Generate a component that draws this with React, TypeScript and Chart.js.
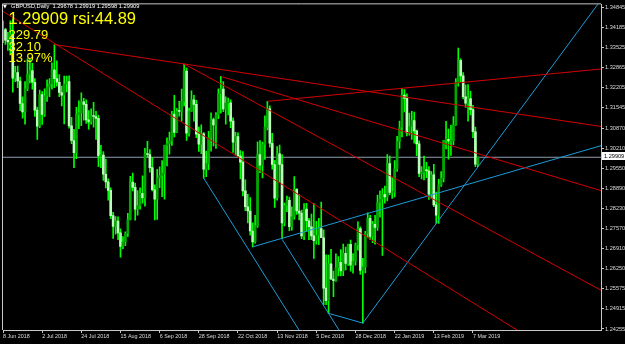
import { useEffect, useRef } from 'react';
import { Chart, registerables } from 'chart.js';

Chart.register(...registerables);

// Daily GBPUSD bars, index 0 = 8 Jun 2018
const opens = [
  1.3410, 1.3411, 1.3376, 1.3371, 1.3395, 1.3251, 1.3270, 1.3242, 1.3168, 1.3140,
  1.3216, 1.3264, 1.3276, 1.3238, 1.3146, 1.3093, 1.3197, 1.3132, 1.3193, 1.3222,
  1.3232, 1.3279, 1.3250, 1.3238, 1.3204, 1.3195, 1.3233, 1.3240, 1.3094, 1.3046,
  1.3006, 1.3132, 1.3138, 1.3173, 1.3165, 1.3114, 1.3107, 1.3126, 1.3125, 1.3119,
  1.2995, 1.2998, 1.2935, 1.2910, 1.2882, 1.2799, 1.2763, 1.2781, 1.2742, 1.2697,
  1.2712, 1.2740, 1.2786, 1.2909, 1.2892, 1.2820, 1.2832, 1.2872, 1.2857, 1.3002,
  1.3000, 1.2957, 1.2884, 1.2853, 1.2924, 1.2931, 1.2938, 1.3030, 1.3036, 1.3044,
  1.3133, 1.3073, 1.3143, 1.3142, 1.3175, 1.3275, 1.3070, 1.3143, 1.3180, 1.3165,
  1.3067, 1.3034, 1.3068, 1.2952, 1.2971, 1.3056, 1.3115, 1.3097, 1.3130, 1.3200,
  1.3215, 1.3150, 1.3169, 1.3170, 1.3110, 1.3041, 1.3059, 1.2996, 1.2975, 1.2880,
  1.2828, 1.2814, 1.2748, 1.2712, 1.2765, 1.3000, 1.2965, 1.3033, 1.3090, 1.3150,
  1.3037, 1.2967, 1.2856, 1.3002, 1.2967, 1.2775, 1.2832, 1.2849, 1.2762, 1.2795,
  1.2885, 1.2814, 1.2807, 1.2732, 1.2820, 1.2782, 1.2762, 1.2732, 1.2716, 1.2734,
  1.2756, 1.2726, 1.2560, 1.2519, 1.2640, 1.2590, 1.2585, 1.2627, 1.2645, 1.2617,
  1.2675, 1.2641, 1.2704, 1.2636, 1.2648, 1.2703, 1.2756, 1.2618, 1.2630, 1.2740,
  1.2790, 1.2730, 1.2770, 1.2760, 1.2842, 1.2853, 1.2869, 1.2860, 1.2970, 1.2875,
  1.2875, 1.2953, 1.3043, 1.3089, 1.3196, 1.3185, 1.3071, 1.3093, 1.3112, 1.3078,
  1.3035, 1.2938, 1.2941, 1.2950, 1.2946, 1.2869, 1.2933, 1.2834, 1.2800, 1.2900,
  1.2922, 1.3047, 1.3050, 1.3044, 1.3045, 1.3097, 1.3238, 1.3310, 1.3259, 1.3190,
  1.3169, 1.3184, 1.3148, 1.3075, 1.29678,
];
const highs = [
  1.3440, 1.3415, 1.3402, 1.3440, 1.3446, 1.3290, 1.3291, 1.3255, 1.3190, 1.3240,
  1.3315, 1.3315, 1.3300, 1.3250, 1.3156, 1.3212, 1.3207, 1.3216, 1.3246, 1.3250,
  1.3302, 1.3362, 1.3308, 1.3263, 1.3225, 1.3258, 1.3258, 1.3259, 1.3122, 1.3083,
  1.3155, 1.3177, 1.3203, 1.3185, 1.3180, 1.3145, 1.3150, 1.3172, 1.3142, 1.3130,
  1.3030, 1.3010, 1.2985, 1.2920, 1.2890, 1.2810, 1.2796, 1.2795, 1.2755, 1.2730,
  1.2745, 1.2806, 1.2928, 1.2939, 1.2906, 1.2881, 1.2890, 1.2930, 1.3020, 1.3043,
  1.3016, 1.2990, 1.2900, 1.2951, 1.2959, 1.2980, 1.3031, 1.3055, 1.3074, 1.3142,
  1.3195, 1.3151, 1.3175, 1.3215, 1.3298, 1.3285, 1.3153, 1.3210, 1.3195, 1.3178,
  1.3090, 1.3098, 1.3072, 1.3011, 1.3076, 1.3137, 1.3120, 1.3138, 1.3216, 1.3257,
  1.3240, 1.3190, 1.3186, 1.3180, 1.3121, 1.3073, 1.3071, 1.3013, 1.3010, 1.2917,
  1.2869, 1.2858, 1.2775, 1.2800, 1.3042, 1.3046, 1.3041, 1.3127, 1.3175, 1.3160,
  1.3070, 1.2981, 1.3026, 1.3031, 1.3000, 1.2840, 1.2863, 1.2860, 1.2828, 1.2927,
  1.2888, 1.2868, 1.2817, 1.2838, 1.2839, 1.2790, 1.2804, 1.2838, 1.2780, 1.2790,
  1.2843, 1.2752, 1.2670, 1.2669, 1.2688, 1.2616, 1.2673, 1.2664, 1.2687, 1.2705,
  1.2695, 1.2705, 1.2718, 1.2674, 1.2708, 1.2778, 1.2762, 1.2658, 1.2747, 1.2808,
  1.2800, 1.2780, 1.2800, 1.2866, 1.2880, 1.2888, 1.2896, 1.3000, 1.2995, 1.2924,
  1.2980, 1.3060, 1.3110, 1.3218, 1.3214, 1.3200, 1.3136, 1.3142, 1.3140, 1.3080,
  1.3045, 1.2960, 1.2995, 1.2974, 1.2960, 1.2944, 1.2968, 1.2876, 1.2918, 1.2944,
  1.3047, 1.3109, 1.3084, 1.3097, 1.3125, 1.3250, 1.3350, 1.3315, 1.3270, 1.3229,
  1.3230, 1.3208, 1.3162, 1.3090, 1.29919,
];
const lows = [
  1.3367, 1.3362, 1.3343, 1.3330, 1.3205, 1.3240, 1.3220, 1.3144, 1.3120, 1.3100,
  1.3210, 1.3236, 1.3215, 1.3125, 1.3050, 1.3088, 1.3099, 1.3125, 1.3175, 1.3190,
  1.3215, 1.3220, 1.3225, 1.3190, 1.3160, 1.3101, 1.3206, 1.3087, 1.3036, 1.2957,
  1.2986, 1.3085, 1.3095, 1.3113, 1.3102, 1.3083, 1.3100, 1.3090, 1.3050, 1.2960,
  1.2957, 1.2915, 1.2890, 1.2850, 1.2789, 1.2724, 1.2738, 1.2720, 1.2662, 1.2690,
  1.2700, 1.2730, 1.2785, 1.2880, 1.2784, 1.2800, 1.2820, 1.2840, 1.2830, 1.2990,
  1.2942, 1.2880, 1.2785, 1.2786, 1.2891, 1.2861, 1.2853, 1.2962, 1.3001, 1.3030,
  1.3058, 1.3072, 1.3126, 1.3110, 1.3160, 1.3046, 1.3060, 1.3142, 1.3110, 1.3055,
  1.3010, 1.3003, 1.2922, 1.2927, 1.2950, 1.3011, 1.3028, 1.3020, 1.3118, 1.3136,
  1.3141, 1.3100, 1.3130, 1.3088, 1.3007, 1.3000, 1.2991, 1.2920, 1.2864, 1.2815,
  1.2775, 1.2734, 1.2696, 1.2708, 1.2760, 1.2940, 1.2923, 1.2984, 1.3081, 1.3024,
  1.2952, 1.2826, 1.2850, 1.2909, 1.2724, 1.2765, 1.2812, 1.2749, 1.2751, 1.2787,
  1.2803, 1.2785, 1.2723, 1.2720, 1.2747, 1.2720, 1.2720, 1.2658, 1.2705, 1.2703,
  1.2728, 1.2506, 1.2506, 1.2477, 1.2588, 1.2532, 1.2582, 1.2600, 1.2600, 1.2601,
  1.2620, 1.2635, 1.2616, 1.2609, 1.2636, 1.2685, 1.2605, 1.2445, 1.2610, 1.2725,
  1.2720, 1.2710, 1.2705, 1.2750, 1.2794, 1.2668, 1.2840, 1.2847, 1.2868, 1.2855,
  1.2860, 1.2944, 1.3020, 1.3058, 1.3140, 1.3061, 1.3064, 1.3050, 1.3037, 1.2996,
  1.2927, 1.2920, 1.2916, 1.2924, 1.2852, 1.2856, 1.2828, 1.2773, 1.2773, 1.2895,
  1.2910, 1.3018, 1.2985, 1.2997, 1.3032, 1.3096, 1.3225, 1.3240, 1.3183, 1.3155,
  1.3110, 1.3130, 1.3055, 1.2960, 1.29598,
];
const closes = [
  1.3411, 1.3376, 1.3371, 1.3395, 1.3251, 1.3270, 1.3242, 1.3168, 1.3140, 1.3216,
  1.3264, 1.3276, 1.3238, 1.3146, 1.3093, 1.3197, 1.3132, 1.3193, 1.3222, 1.3232,
  1.3279, 1.3250, 1.3238, 1.3204, 1.3195, 1.3233, 1.3240, 1.3094, 1.3046, 1.3006,
  1.3132, 1.3138, 1.3173, 1.3165, 1.3114, 1.3107, 1.3126, 1.3125, 1.3119, 1.2995,
  1.2998, 1.2935, 1.2910, 1.2882, 1.2799, 1.2763, 1.2781, 1.2742, 1.2697, 1.2712,
  1.2740, 1.2786, 1.2909, 1.2892, 1.2820, 1.2832, 1.2872, 1.2857, 1.3002, 1.3000,
  1.2957, 1.2884, 1.2853, 1.2924, 1.2931, 1.2938, 1.3030, 1.3036, 1.3044, 1.3133,
  1.3073, 1.3143, 1.3142, 1.3175, 1.3275, 1.3070, 1.3143, 1.3180, 1.3165, 1.3067,
  1.3034, 1.3068, 1.2952, 1.2971, 1.3056, 1.3115, 1.3097, 1.3130, 1.3200, 1.3215,
  1.3150, 1.3169, 1.3170, 1.3110, 1.3041, 1.3059, 1.2996, 1.2975, 1.2880, 1.2828,
  1.2814, 1.2748, 1.2712, 1.2765, 1.3000, 1.2965, 1.3033, 1.3090, 1.3150, 1.3037,
  1.2967, 1.2856, 1.3002, 1.2967, 1.2775, 1.2832, 1.2849, 1.2762, 1.2795, 1.2885,
  1.2814, 1.2807, 1.2732, 1.2820, 1.2782, 1.2762, 1.2732, 1.2716, 1.2734, 1.2756,
  1.2726, 1.2560, 1.2519, 1.2640, 1.2590, 1.2585, 1.2627, 1.2645, 1.2617, 1.2675,
  1.2641, 1.2704, 1.2636, 1.2648, 1.2703, 1.2756, 1.2618, 1.2630, 1.2740, 1.2790,
  1.2730, 1.2770, 1.2760, 1.2842, 1.2853, 1.2869, 1.2860, 1.2970, 1.2875, 1.2875,
  1.2953, 1.3043, 1.3089, 1.3196, 1.3185, 1.3071, 1.3093, 1.3112, 1.3078, 1.3035,
  1.2938, 1.2941, 1.2950, 1.2946, 1.2869, 1.2933, 1.2834, 1.2800, 1.2900, 1.2922,
  1.3047, 1.3050, 1.3044, 1.3045, 1.3097, 1.3238, 1.3310, 1.3259, 1.3190, 1.3169,
  1.3184, 1.3148, 1.3075, 1.29678, 1.29909,
];

const xTickIdx = [0, 16, 32, 48, 64, 80, 96, 112, 128, 144, 160, 176, 192];
const xTickLabels = [
  '8 Jun 2018', '2 Jul 2018', '24 Jul 2018', '15 Aug 2018', '6 Sep 2018', '28 Sep 2018',
  '22 Oct 2018', '13 Nov 2018', '5 Dec 2018', '28 Dec 2018', '22 Jan 2019', '13 Feb 2019', '7 Mar 2019',
];
const yTickValues = [
  1.34845, 1.34185, 1.33525, 1.32865, 1.32205, 1.31545, 1.3087, 1.3021, 1.2955,
  1.2889, 1.2823, 1.2757, 1.2691, 1.2625, 1.25575, 1.24915, 1.24255,
];

// Trend lines: anchor points (bar index, price)
const trendX1 = [0, 21, 89, 108, 74, 82, 102, 114, 133, 147];
const trendY1 = [1.3471, 1.3362, 1.3257, 1.3175, 1.3298, 1.2922, 1.2696, 1.2721, 1.2477, 1.2445];
const trendX2 = [210, 74, 244.3, 163, 244.3, 121, 244.3, 135, 147, 177];
const trendY2 = [1.2422, 1.3298, 1.2881, 1.3218, 1.2553, 1.2421, 1.3029, 1.2451, 1.2445, 1.2773];
const trendColor = ['red', 'red', 'red', 'red', 'red', 'blue', 'blue', 'blue', 'blue', 'blue'];
const trendRay = [true, true, true, true, true, true, true, true, false, true];

const infoLines = ['229.79', '32.10', '13.97%'];
const headerText = 'GBPUSD,Daily  1.29678 1.29919 1.29598 1.29909';
const rsiText = 'rsi:44.89';

const X_MIN = 0;
const X_MAX = 244.3;
const Y_MIN = 1.24222;
const Y_MAX = 1.34943;

const RED = '#d20000';
const BLUE = '#1c9bd8';
const WICK = '#00ff00';
const BULL = '#00a800';
const BEAR = '#b8ffb8';
const AXIS = '#c8c8c8';
const FONT = "'Liberation Sans', Arial, sans-serif";

export default function App() {
  const ref = useRef<HTMLCanvasElement>(null);

  useEffect(() => {
    document.body.style.margin = '0';
    document.body.style.background = '#000';
    const canvas = ref.current;
    if (!canvas) return;
    const n = closes.length;
    const idx = Array.from({ length: n }, (_, i) => i);
    const last = closes[n - 1];

    const trendSets = trendX1.map((x1, k) => {
      const y1 = trendY1[k];
      const x2 = trendX2[k];
      const y2 = trendY2[k];
      let xe = x2;
      let ye = y2;
      if (trendRay[k]) {
        xe = 252;
        ye = y1 + ((y2 - y1) * (xe - x1)) / (x2 - x1);
      }
      return {
        type: 'line' as const,
        data: [{ x: x1, y: y1 }, { x: xe, y: ye }],
        borderColor: trendColor[k] === 'red' ? RED : BLUE,
        borderWidth: 1,
        pointRadius: 0,
        tension: 0,
        order: 0,
      };
    });

    const chart = new Chart(canvas, {
      type: 'bar',
      data: {
        datasets: [
          ...trendSets,
          {
            type: 'bar' as const,
            data: idx.map((i) => ({ x: i, y: [Math.min(opens[i], closes[i]), Math.max(opens[i], closes[i])] })),
            backgroundColor: idx.map((i) => (closes[i] >= opens[i] ? BULL : BEAR)),
            barThickness: 2,
            minBarLength: 1,
            grouped: false,
            borderWidth: 0,
            order: 1,
          },
          {
            type: 'bar' as const,
            data: idx.map((i) => ({ x: i, y: [lows[i], highs[i]] })),
            backgroundColor: WICK,
            barThickness: 1,
            grouped: false,
            borderWidth: 0,
            order: 2,
          },
          {
            type: 'line' as const,
            data: [{ x: -5, y: last }, { x: 260, y: last }],
            borderColor: '#8f9cb0',
            borderWidth: 1,
            pointRadius: 0,
            order: 3,
          },
        ] as any,
      },
      options: {
        responsive: false,
        animation: false,
        devicePixelRatio: 1,
        events: [],
        layout: { padding: { left: 3, top: 3, right: 0, bottom: 0 } },
        plugins: {
          legend: { display: false },
          tooltip: { enabled: false },
          title: { display: false },
        },
        scales: {
          x: {
            type: 'linear',
            min: X_MIN,
            max: X_MAX,
            offset: false,
            bounds: 'data',
            grid: { display: true, drawOnChartArea: false, drawTicks: true, tickLength: 3, color: AXIS, offset: false },
            border: { display: true, color: AXIS },
            ticks: {
              autoSkip: false,
              maxRotation: 0,
              minRotation: 0,
              align: 'start',
              padding: 0,
              color: '#dcdcdc',
              font: { family: FONT, size: 5.4 },
              callback: (_v: any, i: number) => xTickLabels[i] ?? '',
            },
            afterBuildTicks: (s: any) => {
              s.ticks = xTickIdx.map((v) => ({ value: v }));
            },
            afterFit: (s: any) => {
              s.height = 14;
            },
          },
          y: {
            type: 'linear',
            position: 'right',
            min: Y_MIN,
            max: Y_MAX,
            beginAtZero: false,
            bounds: 'data',
            grid: { display: true, drawOnChartArea: false, drawTicks: true, tickLength: 3, color: AXIS },
            border: { display: true, color: AXIS },
            ticks: {
              autoSkip: false,
              padding: 1,
              color: '#dcdcdc',
              font: { family: FONT, size: 5.6 },
              callback: (v: any) => Number(v).toFixed(5),
            },
            afterBuildTicks: (s: any) => {
              s.ticks = yTickValues.map((v) => ({ value: v }));
            },
            afterFit: (s: any) => {
              s.width = 24;
            },
          },
        } as any,
      },
      plugins: [
        {
          id: 'mtFrame',
          afterDraw(c: any) {
            const ctx = c.ctx;
            const a = c.chartArea;
            ctx.save();
            ctx.strokeStyle = AXIS;
            ctx.lineWidth = 1;
            ctx.beginPath();
            ctx.moveTo(a.left - 0.5, a.bottom);
            ctx.lineTo(a.left - 0.5, a.top - 0.5);
            ctx.lineTo(a.right, a.top - 0.5);
            ctx.stroke();
            const py = c.scales.y.getPixelForValue(last);
            ctx.fillStyle = '#ffffff';
            ctx.fillRect(a.right + 1, Math.round(py) - 5, 24, 8);
            ctx.fillStyle = '#000000';
            ctx.font = `5.6px ${FONT}`;
            ctx.textBaseline = 'middle';
            ctx.textAlign = 'left';
            ctx.fillText(last.toFixed(5), a.right + 3, Math.round(py) - 1);
            ctx.restore();
          },
        },
      ],
    });
    return () => chart.destroy();
  }, []);

  const last = closes[closes.length - 1];

  return (
    <div style={{ position: 'relative', width: 625, height: 344, background: '#000', overflow: 'hidden' }}>
      <canvas ref={ref} width={625} height={344} style={{ display: 'block', width: 625, height: 344 }} />
      <div
        style={{
          position: 'absolute', left: 3, top: 3, fontFamily: "'DejaVu Sans', sans-serif",
          fontSize: 5, lineHeight: '6px', color: '#ffffff',
        }}
      >
        ▼
      </div>
      <div
        style={{
          position: 'absolute', left: 11, top: 3.5, fontFamily: FONT, fontSize: 5.7,
          lineHeight: '5.7px', color: '#ffffff', whiteSpace: 'pre',
        }}
      >
        {headerText}
      </div>
      <div
        style={{
          position: 'absolute', left: 8.5, top: 10, fontFamily: FONT, fontSize: 16.5,
          lineHeight: '16.5px', color: '#ffff00', whiteSpace: 'pre',
        }}
      >
        {`${last.toFixed(5)} ${rsiText}`}
      </div>
      {infoLines.map((t, i) => (
        <div
          key={t}
          style={{
            position: 'absolute', left: 8.5, top: [28.3, 39.7, 51.4][i], fontFamily: FONT,
            fontSize: 13, lineHeight: '13px', color: '#ffff00', whiteSpace: 'pre',
          }}
        >
          {t}
        </div>
      ))}
    </div>
  );
}
